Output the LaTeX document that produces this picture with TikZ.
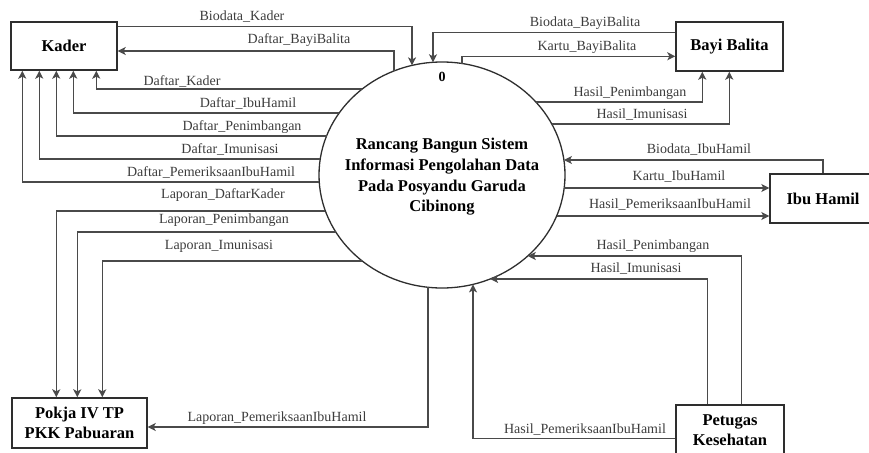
\documentclass[tikz,border=0pt]{standalone}
\usepackage{fontspec}
\setmainfont{Liberation Serif}
\usetikzlibrary{arrows.meta, shapes.geometric, calc}
\definecolor{dfdLine}{HTML}{4A4A4A}
\definecolor{dfdText}{HTML}{3C3C3C}
\definecolor{dfdBox}{HTML}{2E2E2E}
\tikzset{
  entity/.style   = {draw=dfdBox, line width=1.4pt, fill=white, inner sep=0pt,
                     align=center, font=\bfseries\fontsize{16.5}{20}\selectfont},
  process/.style  = {ellipse, draw=dfdBox, line width=1.3pt, fill=white, inner sep=0pt,
                     minimum width=246pt, minimum height=226pt},
  ptext/.style    = {align=center, font=\bfseries\fontsize{16.5}{20.7}\selectfont},
  flow/.style     = {-{Stealth[length=8pt, width=8pt, inset=2pt]}, line width=1.3pt, dfdLine},
  lbl/.style      = {anchor=base, inner sep=0pt, text=dfdText,
                     font=\fontsize{14}{16}\selectfont},
  declare function = {ex(\a) = 123*sqrt(1-((\a-175)/113)^2);
                      ey(\a) = 113*sqrt(1-((\a-442)/123)^2);},
}

\begin{document}
\begin{tikzpicture}[x=1pt, y=-1pt]
  \useasboundingbox (0,0) rectangle (869,452);

  \node[process] (proc) at (442,175) {};
  \node[ptext] (procText) at (442,177) {Rancang Bangun Sistem\\Informasi Pengolahan Data\\Pada Posyandu Garuda\\Cibinong};
  \node[ptext, font=\bfseries\fontsize{14}{16}\selectfont] (procNo) at (442,77) {0};

  \node[entity, minimum width=106pt, minimum height=48pt] (kader) at (64,46) {Kader};
  \node[entity, minimum width=107pt, minimum height=49pt] (bayi) at (729.5,46.5) {Bayi Balita};
  \node[entity, minimum width=106pt, minimum height=49pt] (ibu) at (823,198.5) {Ibu Hamil};
  \node[entity, minimum width=135pt, minimum height=50pt] (pokja) at (79.5,423) {Pokja IV TP\\PKK Pabuaran};
  \node[entity, minimum width=108pt, minimum height=50pt] (petugas) at (730,430) {Petugas\\Kesehatan};

  % points on the edge of the process
  \foreach \nm/\yy in {dk/89, dih/113, dpn/136, dim/159, dpe/182, ldk/211, lpn/232, lim/261}
    \coordinate (\nm) at ({442-ex(\yy)},\yy);
  \foreach \nm/\yy in {hp1/102, hi1/124, bih/160, kih/188, hpi/216, hp2/256, hi2/279}
    \coordinate (\nm) at ({442+ex(\yy)},\yy);
  \foreach \nm/\xx in {dbb/394, bk/412, bbb/433, kbb/462}
    \coordinate (\nm) at (\xx,{175-ey(\xx)});
  \foreach \nm/\xx in {lpi/428, hpe/473}
    \coordinate (\nm) at (\xx,{175+ey(\xx)});

  % Kader
  \draw[flow] ([yshift=-5pt]kader.north east) -| (bk);
  \draw[flow] (dbb) |- ([yshift=-5pt]kader.east);
  \draw[flow] (dk)  -| ([xshift=86pt]kader.south west);
  \draw[flow] (dih) -| ([xshift=63pt]kader.south west);
  \draw[flow] (dpn) -| ([xshift=46pt]kader.south west);
  \draw[flow] (dim) -| ([xshift=29pt]kader.south west);
  \draw[flow] (dpe) -| ([xshift=12pt]kader.south west);

  % Pokja
  \draw[flow] (ldk) -| ([xshift=45pt]pokja.north west);
  \draw[flow] (lpn) -| ([xshift=66pt]pokja.north west);
  \draw[flow] (lim) -| ([xshift=91pt]pokja.north west);
  \draw[flow] (lpi) |- ([yshift=-4pt]pokja.east);

  % Bayi Balita
  \draw[flow] ([yshift=-11pt]bayi.north west) -| (bbb);
  \draw[flow] (kbb) |- ([yshift=-35pt]bayi.north west);
  \draw[flow] (hp1) -| ([xshift=27pt]bayi.south west);
  \draw[flow] (hi1) -| ([xshift=54pt]bayi.south west);

  % Ibu Hamil
  \draw[flow] (ibu.north) |- (bih);
  \draw[flow] (kih) -- (kih -| ibu.west);
  \draw[flow] (hpi) -- (hpi -| ibu.west);

  % Petugas
  \draw[flow] ([xshift=66pt]petugas.north west) |- (hp2);
  \draw[flow] ([xshift=32pt]petugas.north west) |- (hi2);
  \draw[flow] ([yshift=-34pt]petugas.north west) -| (hpe);

  % labels
  \node[lbl] (lBioKader)  at (242,21)  {Biodata\_Kader};
  \node[lbl] (lDafBayi)   at (299,44)  {Daftar\_BayiBalita};
  \node[lbl] (lDafKader)  at (182,85)  {Daftar\_Kader};
  \node[lbl] (lDafIbu)    at (248,107) {Daftar\_IbuHamil};
  \node[lbl] (lDafPen)    at (242,130) {Daftar\_Penimbangan};
  \node[lbl] (lDafImu)    at (230,153) {Daftar\_Imunisasi};
  \node[lbl] (lDafPem)    at (211,176) {Daftar\_PemeriksaanIbuHamil};
  \node[lbl] (lLapKader)  at (223,198) {Laporan\_DaftarKader};
  \node[lbl] (lLapPen)    at (224,223) {Laporan\_Penimbangan};
  \node[lbl] (lLapImu)    at (219,249) {Laporan\_Imunisasi};
  \node[lbl] (lLapPem)    at (277,421) {Laporan\_PemeriksaanIbuHamil};
  \node[lbl] (lBioBayi)   at (585,27)  {Biodata\_BayiBalita};
  \node[lbl] (lKarBayi)   at (587,51)  {Kartu\_BayiBalita};
  \node[lbl] (lHasPenB)   at (630,96)  {Hasil\_Penimbangan};
  \node[lbl] (lHasImuB)   at (642,118) {Hasil\_Imunisasi};
  \node[lbl] (lBioIbu)    at (699,153) {Biodata\_IbuHamil};
  \node[lbl] (lKarIbu)    at (679,180) {Kartu\_IbuHamil};
  \node[lbl] (lHasPemI)   at (670,208) {Hasil\_PemeriksaanIbuHamil};
  \node[lbl] (lHasPenP)   at (653,249) {Hasil\_Penimbangan};
  \node[lbl] (lHasImuP)   at (636,272) {Hasil\_Imunisasi};
  \node[lbl] (lHasPemP)   at (585,433) {Hasil\_PemeriksaanIbuHamil};
\end{tikzpicture}
\end{document}
